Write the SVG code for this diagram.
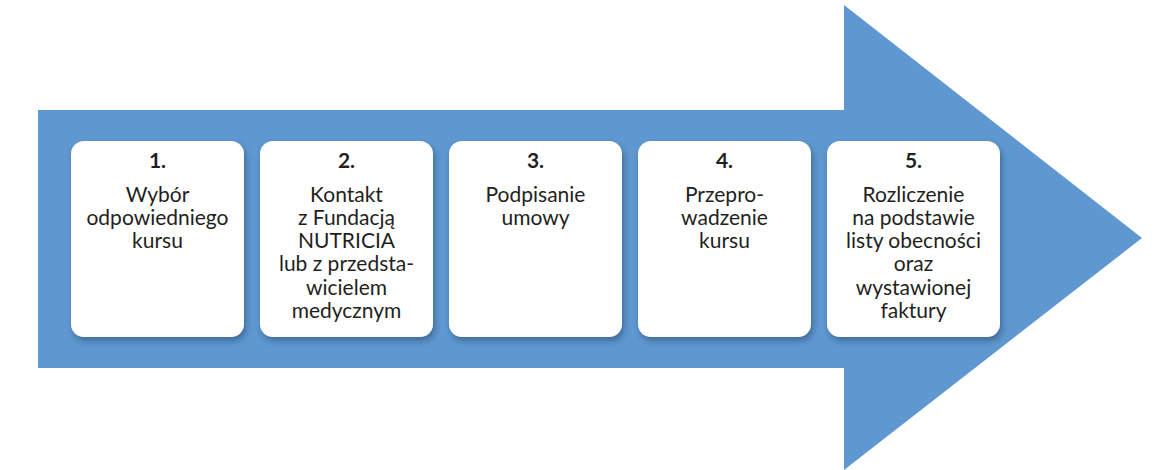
<svg xmlns="http://www.w3.org/2000/svg" width="1162" height="470" viewBox="0 0 1162 470">
<defs>
<filter id="sh" x="-10%" y="-10%" width="130%" height="130%">
<feDropShadow dx="2" dy="4" stdDeviation="3" flood-color="#1e3a5f" flood-opacity="0.5"/>
</filter>
<style>
.card{fill:#ffffff;filter:url(#sh)}
.num{font-family:Lato,"Liberation Sans",sans-serif;font-weight:700;font-size:21px;fill:#231f20;text-anchor:middle}
.txt{font-family:Lato,"Liberation Sans",sans-serif;font-size:21px;fill:#231f20;text-anchor:middle}
</style>
</defs>
<rect width="1162" height="470" fill="#ffffff"/>
<g id="arrow">
<polygon points="38,110 844,110 844,5 1142,238 844,470 844,368 38,368" fill="#5f98d0"/>
</g>
<g id="connectors"></g>
<g id="step1">
<rect class="card" x="71" y="141" width="173" height="196" rx="13"/>
<text class="num" x="157.5" y="168">1.</text>
<text class="txt" x="157.5" y="201.5">Wybór</text>
<text class="txt" x="157.5" y="224.8">odpowiedniego</text>
<text class="txt" x="157.5" y="248.1">kursu</text>
</g>
<g id="step2">
<rect class="card" x="260" y="141" width="173" height="196" rx="13"/>
<text class="num" x="346.5" y="168">2.</text>
<text class="txt" x="346.5" y="201.5">Kontakt</text>
<text class="txt" x="346.5" y="224.8">z Fundacją</text>
<text class="txt" x="346.5" y="248.1">NUTRICIA</text>
<text class="txt" x="346.5" y="271.4">lub z przedsta-</text>
<text class="txt" x="346.5" y="294.7">wicielem</text>
<text class="txt" x="346.5" y="318">medycznym</text>
</g>
<g id="step3">
<rect class="card" x="449" y="141" width="173" height="196" rx="13"/>
<text class="num" x="535.5" y="168">3.</text>
<text class="txt" x="535.5" y="201.5">Podpisanie</text>
<text class="txt" x="535.5" y="224.8">umowy</text>
</g>
<g id="step4">
<rect class="card" x="638" y="141" width="173" height="196" rx="13"/>
<text class="num" x="724.5" y="168">4.</text>
<text class="txt" x="724.5" y="201.5">Przepro-</text>
<text class="txt" x="724.5" y="224.8">wadzenie</text>
<text class="txt" x="724.5" y="248.1">kursu</text>
</g>
<g id="step5">
<rect class="card" x="827" y="141" width="173" height="196" rx="13"/>
<text class="num" x="913.5" y="168">5.</text>
<text class="txt" x="913.5" y="201.5">Rozliczenie</text>
<text class="txt" x="913.5" y="224.8">na podstawie</text>
<text class="txt" x="913.5" y="248.1">listy obecności</text>
<text class="txt" x="913.5" y="271.4">oraz</text>
<text class="txt" x="913.5" y="294.7">wystawionej</text>
<text class="txt" x="913.5" y="318">faktury</text>
</g>
</svg>
